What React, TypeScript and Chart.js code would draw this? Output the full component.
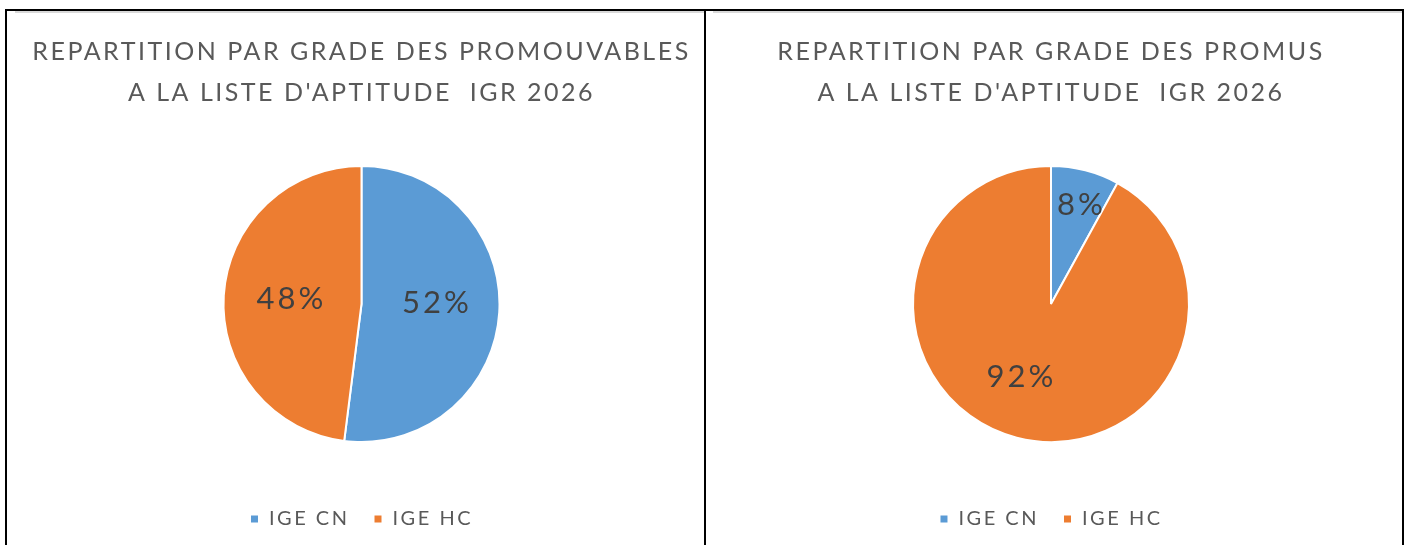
import React, { useEffect, useRef } from "react";
import Chart from "chart.js/auto";

const categories = ["IGE CN", "IGE HC"];
const promouvablesValues = [52, 48];
const promusValues = [8, 92];
const sliceColors = ["#5B9BD5", "#ED7D31"];
const titlePromouvables = ["REPARTITION PAR GRADE DES PROMOUVABLES", "A LA LISTE D'APTITUDE  IGR 2026"];
const titlePromus = ["REPARTITION PAR GRADE DES PROMUS", "A LA LISTE D'APTITUDE  IGR 2026"];

const FONT = "Lato, 'Open Sans', sans-serif";

const spacing = {
  id: "spacing",
  beforeLayout(chart: any) {
    chart.ctx.letterSpacing = "2.5px";
  },
  afterLayout(chart: any) {
    chart.ctx.letterSpacing = "0px";
  },
  beforeDraw(chart: any) {
    chart.ctx.letterSpacing = "2.5px";
  },
  beforeDatasetsDraw(chart: any) {
    chart.ctx.letterSpacing = "0px";
  },
};

const pieLabels = {
  id: "pieLabels",
  afterDatasetsDraw(chart: any, _args: any, opts: any) {
    const ctx = chart.ctx;
    const meta = chart.getDatasetMeta(0);
    const data = chart.data.datasets[0].data;
    const factors = opts.factors || [];
    const shifts = opts.shifts || [];
    ctx.save();
    ctx.font = `${opts.size}px ${FONT}`;
    ctx.letterSpacing = opts.letterSpacing;
    ctx.fillStyle = opts.color;
    ctx.textAlign = "center";
    ctx.textBaseline = "middle";
    meta.data.forEach((arc: any, i: number) => {
      const p = arc.getProps(["x", "y", "startAngle", "endAngle", "outerRadius"], true);
      const mid = (p.startAngle + p.endAngle) / 2 + ((shifts[i] || 0) * Math.PI) / 180;
      const r = p.outerRadius * (factors[i] ?? 0.55);
      ctx.fillText(`${data[i]}%`, p.x + Math.cos(mid) * r + 1.5, p.y + Math.sin(mid) * r);
    });
    ctx.restore();
  },
};

function PieChart(props: { values: number[]; title: string[]; factors: number[]; shifts: number[]; width: number }) {
  const ref = useRef<HTMLCanvasElement>(null);
  useEffect(() => {
    if (!ref.current) return;
    const chart = new Chart(ref.current, {
      type: "pie",
      data: {
        labels: categories,
        datasets: [
          {
            data: props.values,
            backgroundColor: sliceColors,
            borderColor: "#FFFFFF",
            borderWidth: 2,
            radius: 138,
          },
        ],
      },
      plugins: [spacing, pieLabels],
      options: {
        animation: false,
        responsive: false,
        events: [],
        layout: { padding: { top: 0, bottom: 6, left: 0, right: 0 } },
        plugins: {
          tooltip: { enabled: false },
          title: {
            display: true,
            text: props.title,
            color: "#595959",
            font: { family: FONT, size: 25, weight: "normal", lineHeight: 1.64 },
            padding: { top: 20, bottom: 10 },
          },
          legend: {
            position: "bottom",
            labels: {
              color: "#595959",
              font: { family: FONT, size: 20 },
              boxWidth: 9,
              boxHeight: 9,
              padding: 24,
            },
          },
          pieLabels: { size: 31, color: "#404040", letterSpacing: "3px", factors: props.factors, shifts: props.shifts },
        } as any,
      },
    });
    return () => chart.destroy();
  }, []);
  return <canvas ref={ref} width={props.width} height={534} />;
}

export default function App() {
  return (
    <div style={{ position: "absolute", left: 0, top: 0, width: 1405, height: 545, background: "#FFFFFF", overflow: "hidden" }}>
      <div style={{ position: "absolute", left: 7, top: 11, width: 697, height: 534, overflow: "hidden" }}>
        <div style={{ position: "absolute", left: 8, top: 0, width: 693, height: 534 }}>
          <PieChart values={promouvablesValues} title={titlePromouvables} factors={[0.536, 0.52]} shifts={[-4, 0]} width={693} />
        </div>
        <div style={{ position: "absolute", left: 8, top: 0, width: 689, height: 2, background: "#D9D9D9" }} />
      </div>
      <div style={{ position: "absolute", left: 706, top: 11, width: 696, height: 534, overflow: "hidden" }}>
        <div style={{ position: "absolute", left: 7, top: 0, width: 676, height: 534 }}>
          <PieChart values={promusValues} title={titlePromus} factors={[0.745, 0.577]} shifts={[2, 8.6]} width={676} />
        </div>
        <div style={{ position: "absolute", left: 7, top: 0, width: 689, height: 2, background: "#D9D9D9" }} />
      </div>
      <div style={{ position: "absolute", left: 5, top: 9, width: 1399, height: 2, background: "#000000" }} />
      <div style={{ position: "absolute", left: 5, top: 9, width: 2, height: 536, background: "#000000" }} />
      <div style={{ position: "absolute", left: 704, top: 9, width: 2, height: 536, background: "#000000" }} />
      <div style={{ position: "absolute", left: 1402, top: 9, width: 2, height: 536, background: "#000000" }} />
    </div>
  );
}
